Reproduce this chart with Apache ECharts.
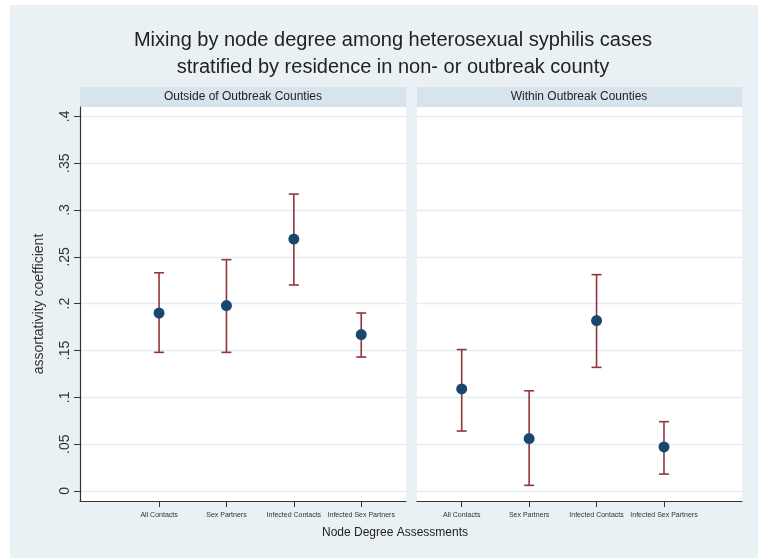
<!DOCTYPE html>
<html>
<head>
<meta charset="utf-8">
<script src="https://cdn.jsdelivr.net/npm/echarts@6/dist/echarts.min.js"></script>
<style>
  html, body { margin: 0; padding: 0; background: #fff; }
  #chart { width: 758px; height: 558px; }
</style>
</head>
<body>
<div id="chart"></div>
<script>
  // data
  var categories = ['All Contacts', 'Sex Partners', 'Infected Contacts', 'Infected Sex Partners'];
  var panels = ['Outside of Outbreak Counties', 'Within Outbreak Counties'];
  var outsideEst = [0.190, 0.198, 0.269, 0.167];
  var outsideLow = [0.148, 0.148, 0.220, 0.143];
  var outsideHigh = [0.233, 0.247, 0.317, 0.190];
  var withinEst = [0.109, 0.056, 0.182, 0.047];
  var withinLow = [0.064, 0.006, 0.132, 0.018];
  var withinHigh = [0.151, 0.107, 0.231, 0.074];
  var yTicks = [0, 0.05, 0.1, 0.15, 0.2, 0.25, 0.3, 0.35, 0.4];

  var App = {};

  App.init = function(){
    var _this = this;
    var chart = echarts.init(document.getElementById('chart'));

    var fmtY = function(v){
      // stata style labels: ".35", "0"
      var t = Math.round(v * 100) / 100;
      if (t === 0) return '0';
      return String(t).replace(/^0/, '');
    };

    var pts = function(est){
      return est.map(function(v, i){ return [i + 1, v]; });
    };
    var bars = function(lo, hi){
      return lo.map(function(v, i){ return [i + 1, v, hi[i]]; });
    };

    var errRender = function(params, api){
      var x = api.value(0);
      var p1 = api.coord([x, api.value(1)]);
      var p2 = api.coord([x, api.value(2)]);
      var w = 5;
      var st = { stroke: '#90353b', lineWidth: 1.6 };
      return {
        type: 'group',
        children: [
          { type: 'line', shape: { x1: p1[0], y1: p1[1], x2: p2[0], y2: p2[1] }, style: st },
          { type: 'line', shape: { x1: p1[0] - w, y1: p1[1], x2: p1[0] + w, y2: p1[1] }, style: st },
          { type: 'line', shape: { x1: p2[0] - w, y1: p2[1], x2: p2[0] + w, y2: p2[1] }, style: st }
        ]
      };
    };

    var xAxisBase = function(idx, min, max){
      return {
        type: 'value', gridIndex: idx, min: min, max: max,
        axisLine: { show: true, onZero: false, lineStyle: { color: '#333', width: 1.2 } },
        axisTick: { show: true, length: 6, lineStyle: { color: '#333' },
          customValues: [1, 2, 3, 4] },
        axisLabel: { show: true, fontSize: 7, color: '#333', margin: 11,
          fontFamily: 'Liberation Sans',
          customValues: [1, 2, 3, 4],
          formatter: function(v){ return categories[Math.round(v) - 1] || ''; } },
        splitLine: { show: false }
      };
    };

    var yAxisBase = function(idx, showLabels){
      return {
        type: 'value', gridIndex: idx, min: -0.0107, max: 0.41,
        axisLine: { show: showLabels, onZero: false, lineStyle: { color: '#333', width: 1.2 } },
        axisTick: { show: showLabels, length: 6, lineStyle: { color: '#333' }, customValues: yTicks },
        axisLabel: { show: showLabels, rotate: 90, fontSize: 14, color: '#333', margin: 8,
          fontFamily: 'Liberation Sans',
          customValues: yTicks, formatter: fmtY },
        splitLine: { show: true, lineStyle: { color: '#e3eef2', width: 1.3 } },
        name: showLabels ? 'assortativity coefficient' : '',
        nameLocation: 'middle', nameGap: 34, nameRotate: 90,
        nameTextStyle: { fontSize: 14, color: '#333', fontFamily: 'Liberation Sans' }
      };
    };

    var option = {
      backgroundColor: '#fff',
      animation: false,
      graphic: [
        { type: 'rect', shape: { x: 10, y: 5, width: 748, height: 553 }, style: { fill: '#e9f1f4' }, z: -10 },
        { type: 'rect', shape: { x: 80, y: 87, width: 326, height: 20 }, style: { fill: '#d8e4eb' } },
        { type: 'rect', shape: { x: 417, y: 87, width: 325, height: 20 }, style: { fill: '#d8e4eb' } },
        { type: 'rect', shape: { x: 80, y: 107, width: 326, height: 394 }, style: { fill: '#ffffff' }, z: -5 },
        { type: 'rect', shape: { x: 417, y: 107, width: 325, height: 394 }, style: { fill: '#ffffff' }, z: -5 },
        { type: 'text', x: 243, y: 97, style: { text: panels[0], align: 'center', verticalAlign: 'middle',
          fill: '#222', fontSize: 12, fontFamily: 'Liberation Sans' } },
        { type: 'text', x: 579, y: 97, style: { text: panels[1], align: 'center', verticalAlign: 'middle',
          fill: '#222', fontSize: 12, fontFamily: 'Liberation Sans' } },
        { type: 'text', x: 395, y: 533, style: { text: 'Node Degree Assessments', align: 'center', verticalAlign: 'middle',
          fill: '#222', fontSize: 12, fontFamily: 'Liberation Sans' } },
        { type: 'text', x: 393, y: 40, style: { text: 'Mixing by node degree among heterosexual syphilis cases',
          align: 'center', verticalAlign: 'middle', fill: '#222', fontSize: 20, fontFamily: 'Liberation Sans' } },
        { type: 'text', x: 393, y: 67, style: { text: 'stratified by residence in non- or outbreak county',
          align: 'center', verticalAlign: 'middle', fill: '#222', fontSize: 20, fontFamily: 'Liberation Sans' } }
      ],
      grid: [
        { left: 80, top: 107, width: 326, height: 394 },
        { left: 417, top: 107, width: 325, height: 394 }
      ],
      xAxis: [
        xAxisBase(0, -0.173, 4.664),
        xAxisBase(1, 0.337, 5.157)
      ],
      yAxis: [
        yAxisBase(0, true),
        yAxisBase(1, false)
      ],
      series: [
        { type: 'custom', xAxisIndex: 0, yAxisIndex: 0, renderItem: errRender,
          data: bars(outsideLow, outsideHigh), z: 2 },
        { type: 'custom', xAxisIndex: 1, yAxisIndex: 1, renderItem: errRender,
          data: bars(withinLow, withinHigh), z: 2 },
        { type: 'scatter', xAxisIndex: 0, yAxisIndex: 0, symbolSize: 11,
          itemStyle: { color: '#1a476f', opacity: 1 }, data: pts(outsideEst), z: 3 },
        { type: 'scatter', xAxisIndex: 1, yAxisIndex: 1, symbolSize: 11,
          itemStyle: { color: '#1a476f', opacity: 1 }, data: pts(withinEst), z: 3 }
      ]
    };

    chart.setOption(option);
  };

  App.init();
</script>
</body>
</html>
